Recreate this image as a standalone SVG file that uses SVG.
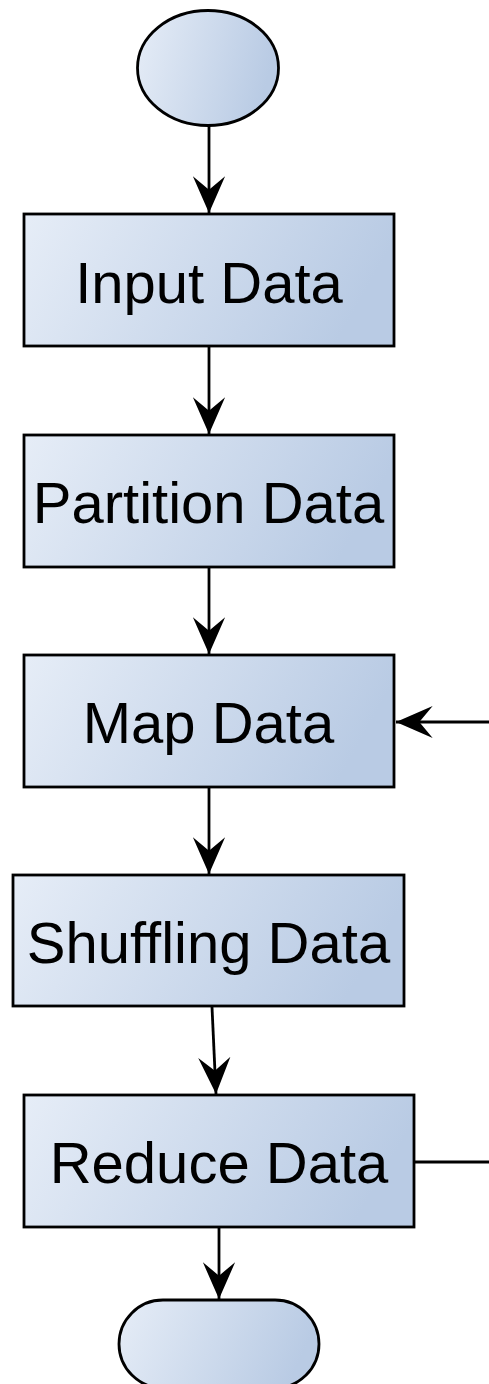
<svg xmlns="http://www.w3.org/2000/svg" width="489" height="1384" viewBox="0 0 489 1384">
<defs>
<linearGradient id="g" x1="0" y1="0" x2="1" y2="0.2">
<stop offset="0" stop-color="#e6edf7"/>
<stop offset="1" stop-color="#b9cbe4"/>
</linearGradient>
<marker id="ah" markerUnits="userSpaceOnUse" markerWidth="40" markerHeight="40" viewBox="-34 -16 36 32" refX="0" refY="0" orient="auto">
<path d="M0,0 L-33,-14.5 L-21,0 L-33,14.5 Z" fill="#000"/>
</marker>
<style>
.n{fill:url(#g);stroke:#000;stroke-width:2.8}
.t{font-family:"Liberation Sans",Arial,sans-serif;font-size:58px;fill:#000;text-anchor:middle}
.c{stroke:#000;stroke-width:2.8;fill:none}
</style>
</defs>
<g id="connectors">
<line class="c" x1="209" y1="126" x2="209" y2="213" marker-end="url(#ah)"/>
<line class="c" x1="209" y1="347" x2="209" y2="434" marker-end="url(#ah)"/>
<line class="c" x1="209" y1="567" x2="209" y2="654" marker-end="url(#ah)"/>
<line class="c" x1="209" y1="787" x2="209" y2="874" marker-end="url(#ah)"/>
<line class="c" x1="212" y1="1007" x2="216" y2="1094" marker-end="url(#ah)"/>
<line class="c" x1="219" y1="1228" x2="219" y2="1299" marker-end="url(#ah)"/>
<line class="c" x1="414" y1="1162" x2="489" y2="1162"/>
<line class="c" x1="489" y1="722" x2="396" y2="722" marker-end="url(#ah)"/>
</g>
<g id="start"><ellipse class="n" cx="208" cy="68" rx="70.5" ry="57.5"/></g>
<g id="input"><rect class="n" x="24" y="214" width="370" height="132"/><text class="t" x="209" y="303">Input Data</text></g>
<g id="partition"><rect class="n" x="24" y="435" width="370" height="132"/><text class="t" x="208.5" y="523">Partition Data</text></g>
<g id="map"><rect class="n" x="24" y="655" width="370" height="132"/><text class="t" x="208.5" y="743">Map Data</text></g>
<g id="shuffling"><rect class="n" x="13" y="875" width="391" height="131"/><text class="t" x="208.5" y="963">Shuffling Data</text></g>
<g id="reduce"><rect class="n" x="24" y="1095" width="390" height="132"/><text class="t" x="219" y="1183">Reduce Data</text></g>
<g id="end"><rect class="n" x="119" y="1300" width="200" height="88" rx="44" ry="44"/></g>
</svg>
